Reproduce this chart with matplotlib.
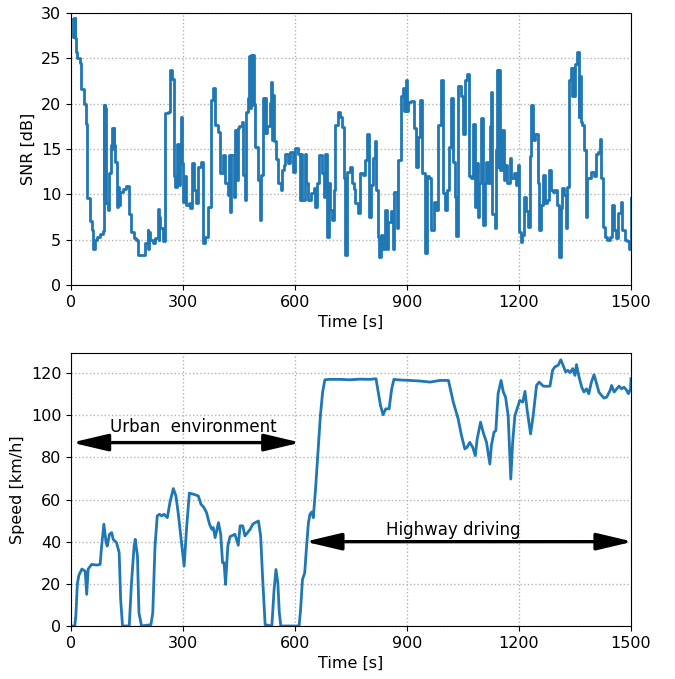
import matplotlib
matplotlib.use("Agg")
import matplotlib.pyplot as plt

plt.rcParams["font.size"] = 11.5

# SNR trace (step changes): time [s] -> SNR [dB]
snr_time = [
    4, 6, 7, 9, 10, 12, 14, 17, 25, 28,
    35, 41, 43, 50, 56, 59, 63, 70, 77, 86,
    88, 89, 90, 91, 92, 95, 98, 101, 108, 110,
    112, 114, 116, 119, 124, 126, 128, 130, 139, 148,
    155, 161, 169, 175, 180, 199, 205, 207, 209, 211,
    220, 226, 233, 235, 237, 239, 246, 253, 260, 264,
    271, 276, 279, 285, 288, 291, 294, 297, 300, 304,
    309, 315, 320, 324, 329, 336, 340, 349, 353, 360,
    367, 376, 380, 386, 393, 400, 407, 413, 420, 422,
    425, 428, 436, 440, 445, 448, 451, 458, 460, 465,
    469, 474, 478, 480, 482, 484, 486, 490, 493, 500,
    505, 510, 514, 517, 519, 521, 526, 532, 536, 539,
    541, 544, 550, 554, 562, 565, 571, 574, 581, 587,
    595, 601, 608, 614, 617, 620, 626, 630, 634, 643,
    650, 654, 659, 665, 671, 677, 681, 685, 690, 695,
    699, 704, 708, 714, 721, 726, 730, 734, 740, 746,
    753, 758, 762, 768, 775, 782, 788, 794, 798, 804,
    809, 815, 818, 822, 826, 831, 835, 840, 847, 850,
    857, 862, 866, 873, 876, 885, 890, 893, 896, 900,
    904, 911, 918, 925, 929, 934, 940, 947, 954, 960,
    965, 972, 978, 984, 990, 996, 1001, 1008, 1012, 1017,
    1023, 1028, 1032, 1037, 1044, 1050, 1056, 1062, 1065, 1072,
    1077, 1081, 1085, 1090, 1094, 1099, 1103, 1108, 1112, 1117,
    1123, 1125, 1128, 1135, 1139, 1141, 1143, 1145, 1148, 1155,
    1159, 1163, 1168, 1175, 1179, 1186, 1193, 1196, 1199, 1205,
    1209, 1214, 1218, 1224, 1229, 1233, 1238, 1244, 1250, 1254,
    1258, 1264, 1269, 1274, 1280, 1285, 1291, 1297, 1301, 1306,
    1312, 1315, 1320, 1325, 1329, 1333, 1338, 1341, 1344, 1347,
    1349, 1355, 1360, 1362, 1365, 1368, 1374, 1380, 1383, 1394,
    1401, 1405, 1412, 1416, 1421, 1425, 1430, 1437, 1443, 1449,
    1455, 1461, 1466, 1473, 1476, 1483, 1490, 1495, 1499, 1500,
]
snr_db = [
    29.3, 27.4, 29.5, 27.3, 29.4, 27.2, 25.7, 25.0, 24.5, 21.6,
    20.0, 17.8, 9.6, 7.1, 6.1, 4.0, 5.0, 5.3, 5.6, 5.9,
    19.8, 9.5, 19.8, 9.0, 19.5, 9.0, 8.3, 12.3, 15.4, 17.3,
    15.0, 17.3, 15.4, 13.6, 8.6, 10.8, 8.8, 10.3, 10.6, 10.9,
    7.8, 5.8, 5.2, 5.0, 3.3, 4.6, 6.1, 4.0, 5.8, 5.0,
    4.6, 5.2, 8.4, 5.0, 7.5, 6.3, 4.8, 19.0, 19.1, 23.7,
    22.7, 12.0, 10.8, 15.6, 11.0, 14.0, 18.5, 13.4, 9.2, 12.0,
    8.8, 9.0, 8.5, 13.4, 10.5, 9.0, 13.0, 13.6, 4.6, 5.3,
    8.6, 20.4, 21.7, 17.6, 16.9, 12.3, 14.3, 11.2, 9.9, 14.3,
    8.1, 14.3, 9.7, 17.1, 11.6, 17.3, 17.5, 18.0, 12.1, 9.4,
    19.1, 20.6, 25.2, 19.5, 25.4, 19.8, 25.4, 20.0, 15.2, 11.6,
    7.2, 12.1, 20.6, 16.8, 20.6, 16.8, 17.5, 20.1, 22.4, 16.0,
    20.9, 15.9, 13.9, 11.2, 10.5, 12.7, 13.2, 14.5, 13.4, 14.7,
    12.5, 15.1, 14.5, 9.4, 14.5, 9.4, 14.5, 11.2, 9.4, 10.1,
    10.7, 8.6, 11.2, 14.3, 12.3, 9.7, 14.5, 5.3, 11.3, 8.3,
    7.2, 10.5, 17.6, 19.1, 18.5, 17.4, 11.8, 3.3, 12.5, 13.0,
    11.3, 10.6, 9.0, 7.9, 12.3, 12.1, 13.8, 16.7, 7.5, 11.0,
    14.0, 15.9, 10.5, 5.3, 3.1, 5.5, 4.0, 8.3, 4.0, 6.9,
    8.2, 4.0, 10.3, 6.3, 13.8, 20.8, 21.7, 19.2, 22.6, 19.2,
    20.2, 20.3, 17.3, 13.0, 16.3, 20.4, 12.3, 3.5, 12.0, 11.8,
    6.1, 9.2, 8.3, 17.6, 22.6, 10.1, 8.3, 10.5, 15.2, 20.6,
    13.6, 9.7, 5.4, 21.9, 20.8, 16.7, 22.6, 23.3, 12.0, 11.8,
    17.8, 8.6, 13.4, 7.5, 11.3, 18.4, 6.6, 11.2, 13.6, 11.2,
    17.5, 21.3, 7.8, 6.3, 14.9, 23.7, 13.0, 23.7, 12.7, 17.1,
    11.6, 13.2, 11.2, 14.0, 11.8, 12.3, 11.0, 13.2, 5.8, 4.7,
    5.5, 9.7, 8.2, 6.4, 14.2, 19.8, 16.0, 16.7, 11.3, 6.1,
    8.8, 12.1, 9.0, 9.4, 12.7, 10.5, 10.3, 10.5, 8.8, 3.1,
    8.5, 10.7, 9.9, 6.3, 10.8, 22.6, 23.9, 20.8, 23.9, 20.8,
    24.4, 25.7, 18.5, 23.0, 18.0, 17.6, 14.9, 7.5, 11.8, 12.5,
    12.0, 14.5, 14.7, 16.1, 11.8, 6.4, 5.3, 5.0, 5.3, 8.8,
    6.1, 5.2, 7.9, 9.2, 6.1, 5.0, 4.8, 4.0, 9.6, 9.6,
]

# vehicle speed: time [s] -> km/h
speed_time = [
    0, 10, 13, 17, 21, 29, 38, 42, 46, 55,
    69, 78, 82, 88, 94, 97, 103, 109, 113, 122,
    129, 133, 138, 156, 162, 169, 172, 178, 182, 189,
    214, 219, 225, 231, 237, 243, 249, 258, 265, 274,
    281, 287, 296, 303, 310, 317, 330, 341, 348, 356,
    363, 371, 377, 381, 386, 390, 395, 401, 406, 410,
    414, 420, 426, 439, 448, 453, 460, 466, 480, 487,
    493, 502, 508, 513, 520, 538, 544, 549, 554, 558,
    562, 611, 615, 620, 626, 631, 636, 640, 645, 649,
    655, 662, 668, 674, 680, 693, 720, 747, 774, 801,
    817, 823, 829, 836, 843, 852, 859, 865, 881, 908,
    935, 962, 988, 1011, 1015, 1024, 1037, 1046, 1055, 1061,
    1068, 1076, 1083, 1088, 1097, 1104, 1113, 1122, 1126, 1133,
    1138, 1144, 1152, 1158, 1164, 1171, 1178, 1183, 1189, 1195,
    1202, 1210, 1216, 1222, 1231, 1238, 1247, 1254, 1265, 1274,
    1283, 1290, 1296, 1305, 1312, 1318, 1325, 1331, 1337, 1344,
    1350, 1354, 1361, 1368, 1374, 1381, 1387, 1394, 1401, 1408,
    1414, 1421, 1428, 1435, 1444, 1448, 1455, 1462, 1468, 1475,
    1481, 1487, 1493, 1499, 1500,
]
speed_kmh = [
    0, 0, 5, 20, 24, 27, 26, 15, 27, 29.2,
    28.9, 29.2, 37.9, 48.3, 39.5, 37.9, 43.5, 44.3, 41.1, 39.5,
    34.8, 12.5, 0, 0, 20.5, 37.9, 41.1, 33.2, 6.2, 0,
    0.6, 6.2, 37.9, 52.2, 53, 52.2, 53, 51.4, 58.6, 65.2,
    61.7, 53.8, 39.5, 28.4, 47.5, 63.0, 62.4, 61.7, 57.8, 56.2,
    53.8, 48.3, 45.9, 46.7, 41.9, 45.1, 49, 43.5, 30, 30,
    19.7, 37.9, 42.4, 43.5, 38.3, 47.5, 47.5, 42.7, 45.9, 48.3,
    49, 49.8, 42.7, 23.7, 0.6, 0, 17.3, 26.8, 20.5, 6.2,
    0, 0, 7.8, 22.1, 25.2, 37.9, 49, 53, 54.1, 51.4,
    64.9, 84, 99.8, 111, 116.8, 117, 117, 116.8, 117.1, 117,
    117.3, 111, 104.6, 100.2, 103, 103, 112.5, 117, 116.7, 116.5,
    116.2, 115.7, 116.5, 116.5, 113.3, 106.2, 98.3, 90.3, 84, 84.8,
    87.1, 84.8, 80.8, 88.7, 96.7, 91.9, 87.1, 76.8, 85.6, 91.9,
    92.7, 110.2, 116.5, 111, 108.6, 99.8, 69.7, 87.1, 99.8, 103,
    107, 106.2, 111.3, 102.2, 91.1, 99.8, 114.1, 115.7, 113.8, 113.7,
    113.8, 121.3, 122.9, 123.7, 126.3, 123.7, 120.5, 121.3, 120.2, 122.1,
    118.9, 124, 118, 113.3, 111, 112.5, 110.2, 115.7, 119.2, 114.9,
    111, 109.4, 108.1, 108.6, 111.7, 114.1, 111, 112.5, 113.8, 112.5,
    113.3, 112.2, 110.2, 112.5, 117.3,
]

time_ticks = [0, 300, 600, 900, 1200, 1500]

# driving-phase spans drawn as double arrows
urban_span = (2, 615)
urban_level = 87
highway_span = (627, 1505)
highway_level = 40

fig = plt.figure(figsize=(6.75, 6.79), dpi=100)
ax1 = fig.add_axes([0.1052, 0.5803, 0.8296, 0.4006])
ax2 = fig.add_axes([0.1052, 0.0781, 0.8296, 0.4020])

# --- SNR ---
ax1.plot(snr_time, snr_db, drawstyle="steps-post", color="#1f77b4", lw=2)
ax1.set_xlim(0, 1500)
ax1.set_ylim(0, 30)
ax1.set_xticks(time_ticks)
ax1.set_yticks(range(0, 31, 5))
ax1.set_xlabel("Time [s]")
ax1.set_ylabel("SNR [dB]")
ax1.grid(True, ls=":", color="0.7", lw=1)

# --- Speed ---
ax2.plot(speed_time, speed_kmh, color="#1f77b4", lw=2)
ax2.set_xlim(0, 1500)
ax2.set_ylim(0, 129.5)
ax2.set_xticks(time_ticks)
ax2.set_yticks(range(0, 121, 20))
ax2.set_xlabel("Time [s]")
ax2.set_ylabel("Speed [km/h]")
ax2.grid(True, ls=":", color="0.7", lw=1)

arrow_kw = dict(arrowstyle="<|-|>,head_length=1.1,head_width=0.26",
                mutation_scale=20, color="black", lw=2.4,
                shrinkA=0, shrinkB=0)
ax2.annotate("", xy=(urban_span[0], urban_level), xytext=(urban_span[1], urban_level),
             arrowprops=arrow_kw)
ax2.annotate("", xy=(highway_span[0], highway_level), xytext=(highway_span[1], highway_level),
             arrowprops=arrow_kw)
ax2.text(328, 92.2, "Urban  environment", ha="center", va="baseline", fontsize=12)
ax2.text(1025, 43.2, "Highway driving", ha="center", va="baseline", fontsize=12)

fig.savefig("out.png", dpi=100)
